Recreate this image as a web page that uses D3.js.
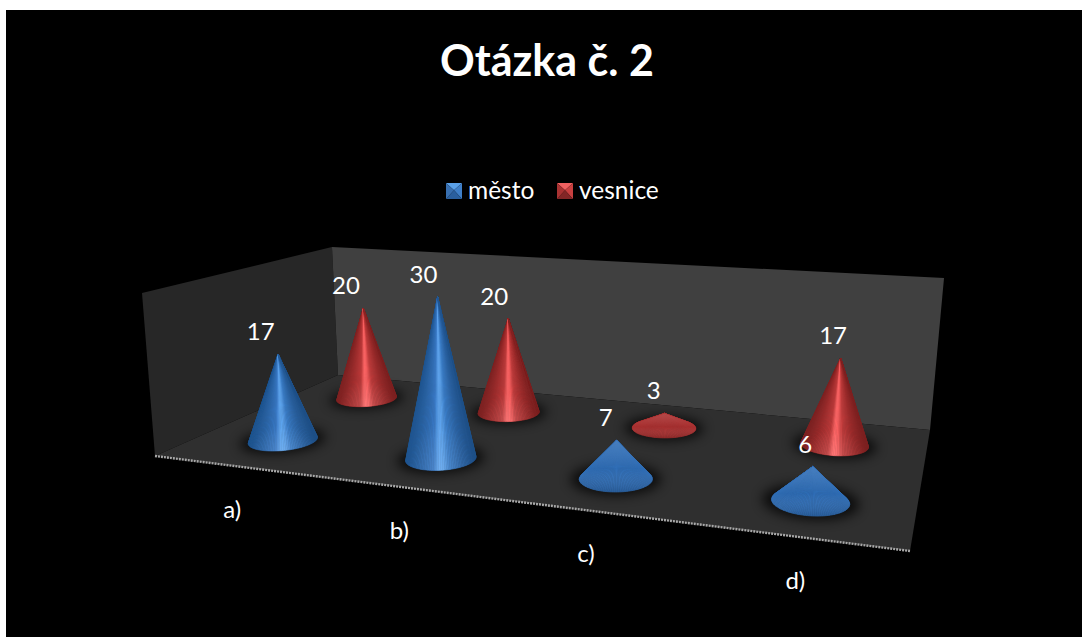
<!DOCTYPE html>
<html lang="cs">
<head>
<meta charset="utf-8">
<script src="https://cdn.jsdelivr.net/npm/d3@7"></script>
<style>
  html, body { margin: 0; padding: 0; background: #fff; overflow: hidden; }
  svg { display: block; }
  text { font-family: Lato, "Open Sans", sans-serif; fill: #fff; }
</style>
</head>
<body>
<script>
// Survey answers by settlement type
const chartTitle = "Otázka č. 2";
const categories = ["a)", "b)", "c)", "d)"];
const seriesNames = ["město", "vesnice"];
const mesto = [17, 30, 7, 6];
const vesnice = [20, 20, 3, 17];

const width = 1082, height = 637;

// Corners of the 3D box on screen: floor, wall tops, and where verticals converge
const floorFL = [155, 456], floorFR = [910, 551], floorBR = [930, 430], floorBL = [338, 375];
const topBL = [332, 247], topBR = [944, 278], topFL = [142, 293];
const verticalVanish = [530, 4670];

// Floor homography from unit square (u along categories, v into depth)
function floorHomography(p0, p1, p2, p3) {
  const dx3 = p0[0] - p1[0] + p2[0] - p3[0], dy3 = p0[1] - p1[1] + p2[1] - p3[1];
  const dx1 = p1[0] - p2[0], dx2 = p3[0] - p2[0], dy1 = p1[1] - p2[1], dy2 = p3[1] - p2[1];
  const den = dx1 * dy2 - dx2 * dy1;
  const g = (dx3 * dy2 - dx2 * dy3) / den, h = (dx1 * dy3 - dx3 * dy1) / den;
  return { a: p1[0] - p0[0] + g * p1[0], b: p3[0] - p0[0] + h * p3[0], c: p0[0],
           d: p1[1] - p0[1] + g * p1[1], e: p3[1] - p0[1] + h * p3[1], f: p0[1], g, h };
}
const H = floorHomography(floorFL, floorFR, floorBR, floorBL);

// Height weight calibrated so w = 1 at the back-left wall top
const liftScale = (() => {
  const Y = H.e + H.f, W = H.h + 1;
  return (topBL[1] * W - Y) / (verticalVanish[1] - topBL[1]);
})();

function project(u, v, w = 0) {
  const k = w * liftScale;
  const X = H.a * u + H.b * v + H.c + k * verticalVanish[0];
  const Y = H.d * u + H.e * v + H.f + k * verticalVanish[1];
  const W = H.g * u + H.h * v + 1 + k;
  return [X / W, Y / W];
}

// Scales in box coordinates
const uScale = d3.scaleBand().domain(categories).range([0, 1]);
const vScale = d3.scalePoint().domain(seriesNames).range([0, 1]).padding(0.5);
const wScale = d3.scaleLinear().domain([0, 30]).range([0, 0.99]);
const labelShift = d3.scaleLinear().domain([0, 1]).range([-19, -6]);

const radiusU = 0.047, radiusV = 0.105;

// Shading ramp across each cone, softened to a flat tone on squat cones
const sheenStops = [-1, -0.62, -0.2, -0.04, 0.08, 0.25, 0.62, 1];
const palettes = {
  "město": {
    sheen: d3.scaleLinear().domain(sheenStops).range(["#1f5590", "#2a64a6", "#3878c4", "#5fa6f0", "#5a9fe8", "#3a7cc6", "#2a62a2", "#1e5088"]),
    flat: "#2f6db6",
    swatch: ["#5aa0e8", "#3f7fc8", "#2a5f9e", "#386fb0"]
  },
  "vesnice": {
    sheen: d3.scaleLinear().domain(sheenStops).range(["#7d2222", "#9c2b2b", "#bd3a3a", "#ff6666", "#f85e5e", "#c03c3c", "#9c2b2b", "#7c2020"]),
    flat: "#a93030",
    swatch: ["#f06060", "#c84040", "#822626", "#a83232"]
  }
};

const svg = d3.select("body").append("svg").attr("width", width).attr("height", height);
const defs = svg.append("defs");
defs.append("filter").attr("id", "floorShadow")
  .attr("x", "-40%").attr("y", "-80%").attr("width", "180%").attr("height", "260%")
  .append("feGaussianBlur").attr("stdDeviation", 6);

// Apex glow for squat cones
const apexGlow = defs.append("linearGradient").attr("id", "apexGlow").attr("x1", 0).attr("y1", 0).attr("x2", 0).attr("y2", 1);
apexGlow.append("stop").attr("offset", "0%").attr("stop-color", "#fff").attr("stop-opacity", 0.13);
apexGlow.append("stop").attr("offset", "55%").attr("stop-color", "#fff").attr("stop-opacity", 0);
apexGlow.append("stop").attr("offset", "100%").attr("stop-color", "#000").attr("stop-opacity", 0.16);

// Pale lip at the front of the base on slender cones
const baseLip = defs.append("radialGradient").attr("id", "baseLip").attr("cx", 0.5).attr("cy", 1).attr("r", 0.5)
  .attr("gradientTransform", "translate(0.5 1) scale(0.9 0.55) translate(-0.5 -1)");
baseLip.append("stop").attr("offset", "0%").attr("stop-color", "#fff").attr("stop-opacity", 0.11);
baseLip.append("stop").attr("offset", "100%").attr("stop-color", "#fff").attr("stop-opacity", 0);

svg.append("rect").attr("x", 6).attr("y", 10).attr("width", width - 6).attr("height", height - 10).attr("fill", "#000");

// Box walls and floor
const polyPath = pts => "M" + pts.map(p => p.join(",")).join("L") + "Z";
const box = svg.append("g");
box.append("path").attr("d", polyPath([topFL, topBL, floorBL, floorFL])).attr("fill", "#272727");
box.append("path").attr("d", polyPath([topBL, topBR, floorBR, floorBL])).attr("fill", "#404040");
box.append("path").attr("d", polyPath([floorFL, floorFR, floorBR, floorBL])).attr("fill", "#2f2f2f");
box.append("line")
  .attr("x1", floorFL[0]).attr("y1", floorFL[1]).attr("x2", floorFR[0]).attr("y2", floorFR[1])
  .attr("stroke", "#a8a8a8").attr("stroke-width", 2.4).attr("stroke-dasharray", "2 1");

// Category labels hang off the front edge of the floor
const catDx = 0, catDy = 52;
svg.append("g").selectAll("text").data(categories).join("text")
  .attr("x", d => project(uScale(d) + uScale.bandwidth() / 2, 0)[0] + catDx)
  .attr("y", d => project(uScale(d) + uScale.bandwidth() / 2, 0)[1] + catDy)
  .attr("text-anchor", "middle").attr("font-size", 24).text(d => d);

// One record per cone, back row first
const cones = [];
[["vesnice", vesnice], ["město", mesto]].forEach(([name, values]) => {
  values.forEach((value, i) => {
    const u = uScale(categories[i]) + uScale.bandwidth() / 2;
    const v = vScale(name);
    cones.push({ name, value, u, v, apex: project(u, v, wScale(value)) });
  });
});

const circleAround = (c, grow, n) => d3.range(n + 1).map(i => {
  const t = i / n * 2 * Math.PI;
  return project(c.u + grow * radiusU * Math.cos(t), c.v + grow * radiusV * Math.sin(t));
});

// How far a cone has a visible specular streak (0 = squat, 1 = slender)
function slenderness(c, ring) {
  const xs = d3.extent(ring, p => p[0]);
  const centre = project(c.u, c.v);
  const rise = Math.hypot(c.apex[0] - centre[0], c.apex[1] - centre[1]);
  return Math.min(1, Math.max(0, (rise / ((xs[1] - xs[0]) / 2) - 1.1)));
}

// Fan of triangles from the apex to the visible part of the base ring
function coneFacets(c) {
  const ring = circleAround(c, 1, 120);
  const xs = d3.extent(ring, p => p[0]);
  const slender = slenderness(c, ring);
  const pal = palettes[c.name];
  const out = [];
  for (let i = 0; i < ring.length - 1; i++) {
    const p = ring[i], q = ring[i + 1];
    const cross = (p[0] - c.apex[0]) * (q[1] - c.apex[1]) - (p[1] - c.apex[1]) * (q[0] - c.apex[0]);
    if (cross >= 0) continue;
    const s = 2 * ((p[0] + q[0]) / 2 - xs[0]) / (xs[1] - xs[0]) - 1;
    const colour = d3.interpolateRgb(pal.flat, pal.sheen(s))(slender);
    out.push({ d: polyPath([c.apex, p, q]), colour });
  }
  return out;
}

const silhouette = c => polyPath(d3.polygonHull([c.apex, ...circleAround(c, 1, 120)]));

const coneLayer = svg.append("g");
coneLayer.selectAll("path.shadow").data(cones).join("path")
  .attr("class", "shadow")
  .attr("d", c => polyPath(circleAround(c, 1.24, 60)))
  .attr("fill", "#000").attr("opacity", 0.75).attr("filter", "url(#floorShadow)");

const coneGroups = coneLayer.selectAll("g.cone").data(cones).join("g").attr("class", "cone");
coneGroups.selectAll("path.facet").data(coneFacets).join("path")
  .attr("class", "facet")
  .attr("d", d => d.d).attr("fill", d => d.colour).attr("stroke", d => d.colour).attr("stroke-width", 0.6);
coneGroups.append("path").attr("d", silhouette)
  .attr("fill", c => slenderness(c, circleAround(c, 1, 60)) > 0.5 ? "url(#baseLip)" : "url(#apexGlow)");

// Value labels above each apex
svg.append("g").selectAll("text").data(cones).join("text")
  .attr("x", c => c.apex[0] + labelShift(c.u))
  .attr("y", c => c.apex[1] - 14)
  .attr("text-anchor", "middle").attr("font-size", 24).text(c => c.value);

// Title
svg.append("text").attr("x", 547).attr("y", 76).attr("text-anchor", "middle")
  .attr("font-size", 43).attr("font-weight", 700).text(chartTitle);

// Legend
const legendX = d3.scaleOrdinal().domain(seriesNames).range([446, 557]);
const legend = svg.append("g").selectAll("g").data(seriesNames).join("g")
  .attr("transform", d => `translate(${legendX(d)},183)`);
const swatchSize = 16;
legend.each(function (name) {
  const g = d3.select(this), c = [swatchSize / 2, swatchSize * 0.45], s = swatchSize;
  const faces = [[[0, 0], [s, 0], c], [[s, 0], [s, s], c], [[s, s], [0, s], c], [[0, s], [0, 0], c]];
  g.selectAll("path").data(faces).join("path")
    .attr("d", polyPath).attr("fill", (d, i) => palettes[name].swatch[i]);
});
legend.append("text").attr("x", 22).attr("y", 16).attr("font-size", 24.5).text(d => d);
</script>
</body>
</html>
